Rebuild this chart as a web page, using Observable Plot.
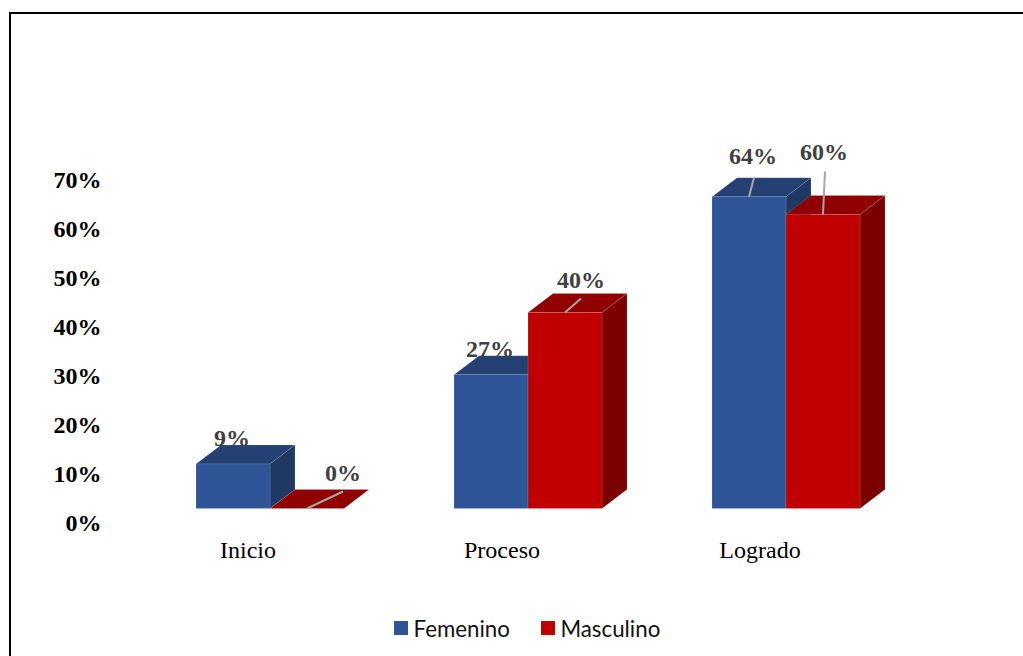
<!DOCTYPE html>
<html lang="es">
<head>
<meta charset="utf-8">
<script src="https://cdn.jsdelivr.net/npm/d3@7"></script>
<script src="https://cdn.jsdelivr.net/npm/@observablehq/plot@0.6"></script>
<style>
  html, body { margin: 0; padding: 0; background: #fff; overflow: hidden; }
  body { width: 1023px; height: 656px; position: relative; }
  #frame { position: absolute; left: 9px; top: 12px; width: 1100px; height: 800px; border: 2px solid #000; box-sizing: border-box; }
  #chart { position: absolute; left: 0; top: 0; }
  #chart svg { overflow: visible; background: transparent; }
  #legend { position: absolute; left: 394px; top: 614px; height: 28px; display: flex; align-items: center;
            font-family: Lato, sans-serif; font-size: 22.3px; color: #111; white-space: nowrap; }
  #legend i { display: inline-block; width: 14px; height: 14px; margin-right: 5.5px; }
  #legend span { margin-right: 31px; }
</style>
</head>
<body>
<div id="frame"></div>
<div id="chart"></div>
<div id="legend"></div>
<script>
const categories = ["Inicio", "Proceso", "Logrado"];
const seriesNames = ["Femenino", "Masculino"];
const femenino = [9.1, 27.3, 63.6];
const masculino = [0, 40, 60];
const yTicks = [0, 10, 20, 30, 40, 50, 60, 70];

// Face colours per series: front, top, side
const faceColors = [
  {front: "#2E5597", top: "#254073", side: "#1F3864"},
  {front: "#C00000", top: "#900000", side: "#7B0000"}
];

// Pixel size of one scale unit, used for label and leader offsets
const pxX = 1 / 258, pxY = 1 / 4.9;
const barWidth = 74 * pxX, depthX = 25 * pxX, depthY = 19 * pxY;

// Offsets (px) of each value label from the top centre of its bar: [dx, baseline dy]
const labelOffsets = [
  [-1, -18], [36, -28],
  [-1, -18], [16, -25],
  [4, -33], [1, -55]
];
// End of each leader line (px from the top centre of its bar); null = none
const leaderEnds = [
  null, [36, 17],
  null, [16, 14],
  [5, 19], [2, 43]
];
// Horizontal offset (px) of each category label from its group's centre
const categoryOffsets = [-22, -26, -26];

const bars = categories.flatMap((c, i) => [
  {i, s: 0, value: femenino[i], x0: i - barWidth},
  {i, s: 1, value: masculino[i], x0: i}
]);

const vertices = bars.flatMap((b, k) => {
  const x0 = b.x0, x1 = b.x0 + barWidth, v = b.value, col = faceColors[b.s];
  const faces = [
    ["top", [[x0, v], [x1, v], [x1 + depthX, v + depthY], [x0 + depthX, v + depthY], [x0, v]]],
    ["side", [[x1, 0], [x1 + depthX, depthY], [x1 + depthX, v + depthY], [x1, v], [x1, 0]]],
    ["front", [[x0, 0], [x1, 0], [x1, v], [x0, v], [x0, 0]]]
  ];
  return faces.flatMap(([name, pts]) =>
    (v === 0 && name !== "top") ? [] :
    pts.map(([x, y]) => ({id: k + name, x, y, fill: col[name]})));
});

const leaders = bars.flatMap((b, k) => leaderEnds[k] ? [{
  x1: b.x0 + barWidth / 2, y1: b.value,
  x2: b.x0 + barWidth / 2 + leaderEnds[k][0] * pxX, y2: b.value + leaderEnds[k][1] * pxY
}] : []);

const labels = bars.map((b, k) => ({
  x: b.x0 + barWidth / 2 + labelOffsets[k][0] * pxX,
  y: b.value - labelOffsets[k][1] * pxY,
  text: Math.round(b.value) + "%"
}));

const serif = "'Liberation Serif', serif";

const plot = Plot.plot({
  width: 1023,
  height: 600,
  margin: 0,
  style: {background: "transparent"},
  x: {type: "linear", domain: [0, 2], range: [269.5, 785.5], axis: null},
  y: {type: "linear", domain: [0, 70], range: [508, 165], axis: null},
  marks: [
    Plot.line(vertices, {
      x: "x", y: "y", z: "id", fill: "fill",
      stroke: "#ffffff", strokeOpacity: 0.12, strokeWidth: 1, strokeLinejoin: "miter"
    }),
    Plot.link(leaders, {x1: "x1", y1: "y1", x2: "x2", y2: "y2", stroke: "#A6A6A6", strokeWidth: 2}),
    Plot.text(labels, {
      x: "x", y: "y", text: "text", lineAnchor: "bottom", textAnchor: "middle",
      fontFamily: serif, fontWeight: "bold", fontSize: 24, fill: "#404040"
    }),
    Plot.axisY({
      ticks: yTicks, tickFormat: d => d + "%", anchor: "left", tickSize: 0, tickPadding: 0,
      dx: 101, dy: 15, label: null,
      fontFamily: serif, fontWeight: "bold", fontSize: 24, fill: "#000"
    }),
    Plot.text(categories, {
      x: (d, i) => i + categoryOffsets[i] * pxX, y: 0, text: d => d, dy: 42,
      fontFamily: serif, fontSize: 24, fill: "#000", lineAnchor: "middle"
    })
  ]
});
document.getElementById("chart").appendChild(plot);

const legend = document.getElementById("legend");
seriesNames.forEach((name, s) => {
  const swatch = document.createElement("i");
  swatch.style.background = faceColors[s].front;
  const label = document.createElement("span");
  label.textContent = name;
  legend.append(swatch, label);
});
</script>
</body>
</html>
